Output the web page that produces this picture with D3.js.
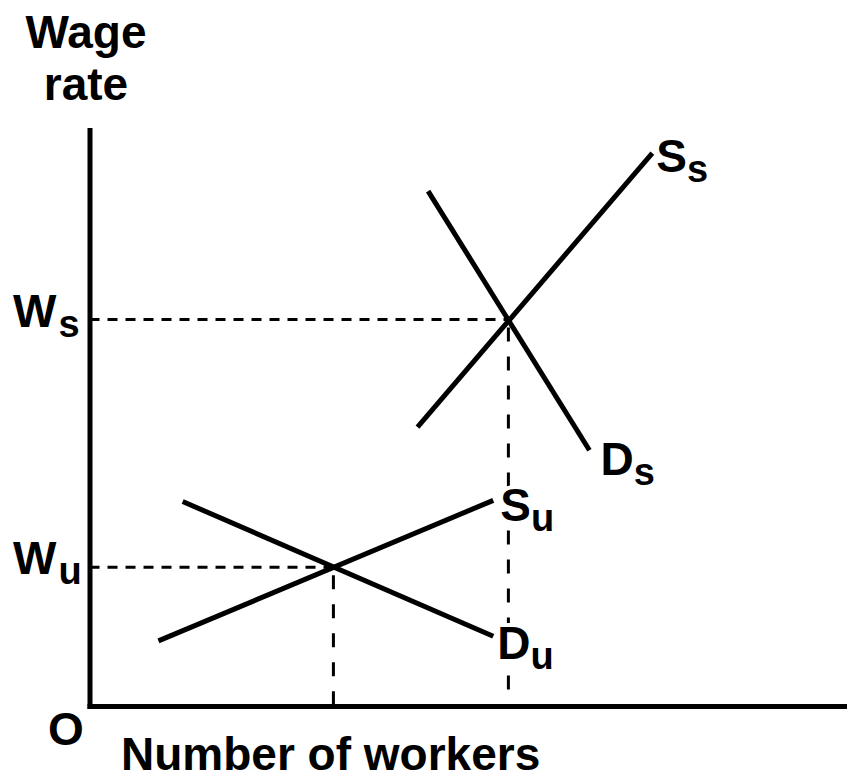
<!DOCTYPE html>
<html>
<head>
<meta charset="utf-8">
<script src="https://cdn.jsdelivr.net/npm/d3@7"></script>
<style>
  html, body { margin: 0; padding: 0; background: #fff; }
  svg { display: block; }
  text { font-family: "Liberation Sans", Arial, sans-serif; font-weight: bold; fill: #000; }
</style>
</head>
<body>
<div id="chart"></div>
<script>
// Curves in chart units (x: number of workers, y: wage rate), 0..100 on both axes
var supplySkilled = [[43.3, 48.4], [74.3, 96.0]];
var demandSkilled = [[44.7, 89.4], [66.0, 44.4]];
var supplyUnskilled = [[9.1, 11.3], [53.3, 35.7]];
var demandUnskilled = [[12.3, 35.5], [53.3, 12.1]];

var curveNames = ["S", "D", "S", "D"];
var curveSubs = ["s", "s", "u", "u"];

// Equilibrium points and their wage labels
var equilibriumX = [55.3, 32.2];
var equilibriumY = [67.1, 24.1];
var wageSubs = ["s", "u"];

var yTitle = ["Wage", "rate"];
var xTitle = "Number of workers";
var originLabel = "O";

var width = 847, height = 778;

var svg = d3.select("#chart").append("svg")
  .attr("width", width)
  .attr("height", height);

var x = d3.scaleLinear().domain([0, 100]).range([89.5, 847]);
var y = d3.scaleLinear().domain([0, 100]).range([706, 130]);

// Axes: plain lines, no ticks
svg.append("g")
  .attr("transform", "translate(" + x(0) + ",0)")
  .call(d3.axisLeft(y).ticks(0).tickSizeOuter(0))
  .select(".domain")
  .attr("stroke", "#000").attr("stroke-width", 5).attr("stroke-linecap", "square");

svg.append("g")
  .attr("transform", "translate(0," + y(0) + ")")
  .call(d3.axisBottom(x).ticks(0).tickSizeOuter(0))
  .select(".domain")
  .attr("stroke", "#000").attr("stroke-width", 5).attr("stroke-linecap", "square");

// Dashed guides from each equilibrium to both axes
equilibriumX.forEach(function (ex, i) {
  var ey = equilibriumY[i];
  svg.append("line")
    .attr("x1", x(0)).attr("y1", y(ey))
    .attr("x2", x(ex)).attr("y2", y(ey))
    .attr("stroke", "#000").attr("stroke-width", 3)
    .attr("stroke-dasharray", "10,8");
  svg.append("line")
    .attr("x1", x(ex)).attr("y1", y(ey) + 8)
    .attr("x2", x(ex)).attr("y2", y(0))
    .attr("stroke", "#000").attr("stroke-width", 3)
    .attr("stroke-dasharray", "14,15");
});

// Supply and demand lines
var line = d3.line()
  .x(function (d) { return x(d[0]); })
  .y(function (d) { return y(d[1]); });

var curves = [supplySkilled, demandSkilled, supplyUnskilled, demandUnskilled];
// label offsets from the end of each line (pixels)
var labelOffsets = [[4, 19], [11, 25], [7, 21], [4, 23]];

svg.append("g")
  .selectAll("path")
  .data(curves)
  .enter().append("path")
  .attr("d", line)
  .attr("fill", "none")
  .attr("stroke", "#000")
  .attr("stroke-width", 5);

// Curve labels with subscripts, white halo hides the dashed guide behind them
var lab = svg.append("g")
  .selectAll("text")
  .data(curves)
  .enter().append("text")
  .attr("x", function (d, i) { return x(d[1][0]) + labelOffsets[i][0]; })
  .attr("y", function (d, i) { return y(d[1][1]) + labelOffsets[i][1]; })
  .attr("font-size", 46)
  .attr("stroke", "#fff").attr("stroke-width", 8)
  .attr("paint-order", "stroke");

lab.append("tspan").text(function (d, i) { return curveNames[i]; });
lab.append("tspan")
  .attr("dy", 10)
  .attr("font-size", 38)
  .text(function (d, i) { return curveSubs[i]; });

// Wage labels on the vertical axis
var wl = svg.append("g")
  .selectAll("text")
  .data(equilibriumY)
  .enter().append("text")
  .attr("x", 13)
  .attr("y", function (d) { return y(d) + 7; })
  .attr("font-size", 46);
wl.append("tspan").text("W");
wl.append("tspan").attr("dx", 2).attr("dy", 10).attr("font-size", 38)
  .text(function (d, i) { return wageSubs[i]; });

// Axis titles
svg.append("g")
  .selectAll("text")
  .data(yTitle)
  .enter().append("text")
  .attr("x", 86)
  .attr("y", function (d, i) { return 48 + i * 52; })
  .attr("text-anchor", "middle")
  .attr("font-size", 46)
  .text(function (d) { return d; });

svg.append("text")
  .attr("x", 48).attr("y", 745)
  .attr("font-size", 46)
  .text(originLabel);

svg.append("text")
  .attr("x", 121).attr("y", 770)
  .attr("font-size", 46)
  .text(xTitle);
</script>
</body>
</html>
